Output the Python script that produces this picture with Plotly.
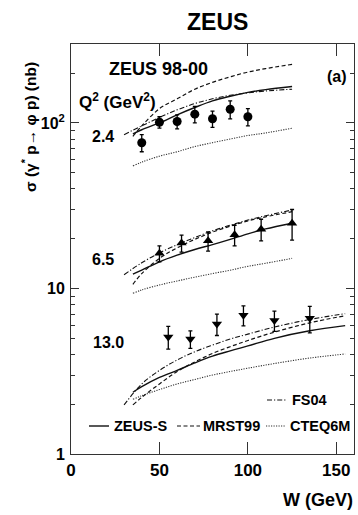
import plotly.graph_objects as go

# ---------------- data ----------------
# measured points
W_24 = [40, 50, 60, 70, 80, 90, 100]
sig_24 = [76, 101, 102, 113, 106, 121, 109]
err_24 = [9, 8, 10, 13, 12, 15, 13]

W_65 = [50, 62.5, 77.5, 92.5, 107.5, 125]
sig_65 = [16.3, 18.8, 19.4, 21.1, 22.8, 24.8]
err_65 = [1.8, 2.2, 2.6, 3.0, 3.4, 5.2]

W_13 = [55, 67.5, 82.5, 97.5, 115, 135]
sig_13 = [5.1, 4.95, 6.1, 6.9, 6.4, 6.6]
err_13 = [0.8, 0.6, 0.9, 0.95, 0.9, 1.2]

# model curves
Wm_lo = [35, 40, 50, 60, 70, 80, 90, 100, 110, 125]
Wf_lo = [30, 40, 50, 60, 70, 80, 90, 100, 110, 125]
zeus_24 = [86, 91, 100, 112, 124, 136, 145, 153, 159, 166]
mrst_24 = [83, 96, 122, 140, 160, 176, 190, 203, 213, 226]
fs04_24 = [85, 96, 108, 120, 131, 140, 147, 152, 156, 160]
cteq_24 = [55, 58, 63, 67, 72, 76, 80, 84, 87, 93]

zeus_65 = [12.2, 12.9, 14.5, 15.9, 17.2, 18.4, 19.8, 21.4, 22.9, 24.8]
mrst_65 = [10.6, 12.3, 15.2, 17.6, 19.8, 21.9, 23.8, 25.6, 27.1, 29.1]
fs04_65 = [12.1, 14.3, 16.4, 18.4, 20.3, 22.3, 24.1, 25.9, 27.5, 29.8]
cteq_65 = [9.35, 9.8, 10.5, 11.1, 11.7, 12.3, 12.9, 13.6, 14.2, 15.2]

Wm_hi = [35, 40, 50, 60, 70, 80, 90, 100, 115, 135, 155]
Wf_hi = [30, 40, 50, 60, 70, 80, 90, 100, 115, 135, 155]
zeus_13 = [2.36, 2.55, 2.9, 3.2, 3.55, 3.9, 4.2, 4.5, 5.0, 5.55, 5.96]
mrst_13 = [1.98, 2.2, 2.65, 3.15, 3.6, 4.05, 4.45, 4.85, 5.45, 6.2, 6.85]
fs04_13 = [1.98, 2.65, 3.2, 3.7, 4.15, 4.55, 4.95, 5.3, 5.85, 6.5, 7.05]
cteq_13 = [2.14, 2.25, 2.45, 2.65, 2.82, 3.0, 3.15, 3.3, 3.52, 3.8, 4.02]

x_ticks = [0, 50, 100, 150]
y_ticks = [1, 10, 100]
y_ticktext = ["1", "10", "10<sup>2</sup>"]
y_minor = [2, 3, 4, 5, 6, 7, 8, 9, 20, 30, 40, 50, 60, 70, 80, 90, 200, 300]

# ---------------- styles ----------------
FONT = "Liberation Sans, Arial, Helvetica, sans-serif"
INK = "#111111"
styles = {
    "ZEUS-S": dict(color=INK, width=1.4, dash="solid"),
    "MRST99": dict(color=INK, width=1.2, dash="4px,2.5px"),
    "FS04": dict(color=INK, width=1.1, dash="5px,2px,1.2px,2px"),
    "CTEQ6M": dict(color="#333333", width=1.1, dash="1.2px,1.3px"),
}

fig = go.Figure()

curves = [
    (Wm_lo, zeus_24, "ZEUS-S"), (Wm_lo, mrst_24, "MRST99"), (Wf_lo, fs04_24, "FS04"), (Wm_lo, cteq_24, "CTEQ6M"),
    (Wm_lo, zeus_65, "ZEUS-S"), (Wm_lo, mrst_65, "MRST99"), (Wf_lo, fs04_65, "FS04"), (Wm_lo, cteq_65, "CTEQ6M"),
    (Wm_hi, zeus_13, "ZEUS-S"), (Wm_hi, mrst_13, "MRST99"), (Wf_hi, fs04_13, "FS04"), (Wm_hi, cteq_13, "CTEQ6M"),
]
for xs, ys, name in curves:
    fig.add_trace(go.Scatter(x=xs, y=ys, mode="lines", line=dict(shape="spline", **styles[name]),
                             showlegend=False, hoverinfo="skip"))

pts = [
    (W_24, sig_24, err_24, "circle"),
    (W_65, sig_65, err_65, "triangle-up"),
    (W_13, sig_13, err_13, "triangle-down"),
]
for xs, ys, es, sym in pts:
    fig.add_trace(go.Scatter(
        x=xs, y=ys, mode="markers",
        marker=dict(symbol=sym, size=9, color="black"),
        error_y=dict(type="data", array=es, visible=True, color="black", thickness=1.3, width=2),
        showlegend=False))

# ---------------- layout ----------------
L, R, T, B = 71, 354, 44, 454
W_PX, H_PX = 358, 515


def px(xp):
    return (xp - L) / (R - L)


def py(yp):
    return (B - yp) / (B - T)


def ann(text, x, y, size=15, xanchor="center", yanchor="middle", angle=0):
    fig.add_annotation(text=text, x=px(x), y=py(y), xref="paper", yref="paper",
                       showarrow=False, xanchor=xanchor, yanchor=yanchor, textangle=angle,
                       borderpad=0,
                       font=dict(family=FONT, size=size, color="black", weight="bold"))


ann("ZEUS", 217, 22, size=23)
ann("ZEUS 98-00", 158, 69, size=18)
ann("(a)", 337, 77, size=16)
ann("Q<sup>2</sup> (GeV<sup>2</sup>)", 117, 101, size=17)
ann("2.4", 103, 136, size=16)
ann("6.5", 103, 259, size=16)
ann("13.0", 108, 342, size=16)
ann("σ (γ<sup>*</sup> p→ φ p) (nb)", 29, 127, size=15.5, angle=-90)
ann("W (GeV)", 354, 500, size=18, xanchor="right")

# legend
legend_rows = [
    ("FS04", 267, 287, 291, 400),
    ("ZEUS-S", 89, 109, 113, 426),
    ("MRST99", 177, 200, 202, 426),
    ("CTEQ6M", 266, 286, 289, 426),
]
for name, x0, x1, xt, yy in legend_rows:
    st = styles[name]
    fig.add_shape(type="line", xref="paper", yref="paper", x0=px(x0), x1=px(x1), y0=py(yy), y1=py(yy),
                  line=dict(color=st["color"], width=st["width"], dash=st["dash"]))
    ann(name, xt, yy, size=14.5, xanchor="left")

fig.update_layout(
    width=W_PX, height=H_PX,
    margin=dict(l=L, r=W_PX - R, t=T, b=H_PX - B, pad=0),
    paper_bgcolor="white", plot_bgcolor="white",
    showlegend=False,
    font=dict(family=FONT, color="black"),
)
fig.update_xaxes(
    range=[0, 160], tickvals=x_ticks, ticks="inside", ticklen=12, tickwidth=1, tickcolor="#333",
    showline=True, linecolor="#333", linewidth=1, mirror="ticks", showgrid=False, zeroline=False,
    ticklabelstandoff=1,
    tickfont=dict(family=FONT, size=17, color="black", weight="bold"),
)
fig.update_yaxes(
    type="log", range=[0, 2.4771], tickvals=y_ticks, ticktext=y_ticktext,
    ticks="inside", ticklen=8, tickwidth=1, tickcolor="#333",
    minor=dict(tickvals=y_minor, ticks="inside", ticklen=4, tickcolor="#333", showgrid=False),
    showline=True, linecolor="#333", linewidth=1, mirror="ticks", showgrid=False, zeroline=False,
    ticklabelstandoff=2,
    tickfont=dict(family=FONT, size=16, color="black", weight="bold"),
)

fig.write_html("out.html")
